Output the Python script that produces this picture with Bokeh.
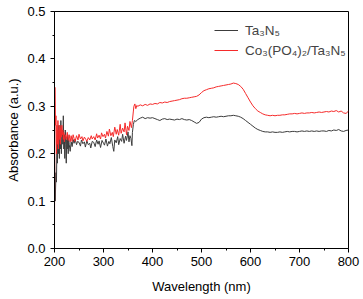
from bokeh.plotting import figure
from bokeh.models import Range1d, FixedTicker, NumeralTickFormatter, Legend, LegendItem
from bokeh.embed import file_html
from bokeh.resources import INLINE

# Ta3N5 (dark grey)
ta_x = [200, 201.5, 203, 204, 205, 206, 207, 208, 209, 210, 211, 212, 213, 214, 215, 216, 217, 218, 219, 220,
        221, 222, 223, 224, 225, 226, 227, 228, 229, 230, 232, 234, 236, 238,
        240, 242, 245, 247, 250, 253, 255, 258, 261, 263, 266, 269, 272, 274, 277, 280, 283, 286, 289, 291,
        294, 297, 300, 302, 305, 308, 311, 313, 316, 319, 321, 323, 326, 329, 331, 334, 337, 339, 342, 345,
        347, 350, 352, 354, 356, 358, 359, 361, 363, 366,
        370, 375, 380, 385, 390, 395, 400, 405, 410, 415, 420, 425, 430, 435, 440, 445, 450, 455, 460, 465,
        470, 475, 480, 485, 490, 495, 500, 505, 510, 515, 520, 525, 530, 535, 540, 545, 550, 555, 560, 565,
        570, 575, 580, 585, 590, 595, 600, 605, 610, 615, 620, 625, 630, 635, 640, 645, 650, 655, 660, 665,
        670, 675, 680, 685, 690, 695, 700, 705, 710, 715, 720, 725, 730, 735, 740, 745, 750, 755, 760, 765,
        770, 775, 780, 785, 790, 795, 800]
ta_y = [0.20, 0.10, 0.16, 0.14, 0.22, 0.18, 0.25, 0.20, 0.26, 0.19, 0.24, 0.21, 0.27, 0.20, 0.23, 0.25, 0.22, 0.28, 0.21, 0.24,
        0.19, 0.25, 0.22, 0.18, 0.23, 0.21, 0.24, 0.20, 0.23, 0.22, 0.205, 0.225, 0.215, 0.23,
        0.222, 0.231, 0.219, 0.226, 0.224, 0.216, 0.229, 0.221, 0.225, 0.214, 0.227, 0.219, 0.222, 0.212, 0.226, 0.224, 0.215, 0.229, 0.22, 0.227,
        0.213, 0.228, 0.222, 0.218, 0.231, 0.216, 0.226, 0.221, 0.234, 0.215, 0.205, 0.229, 0.223, 0.236, 0.219, 0.232, 0.226, 0.241, 0.222, 0.237,
        0.228, 0.246, 0.225, 0.238, 0.232, 0.217, 0.245, 0.262, 0.27, 0.268,
        0.272, 0.275, 0.277, 0.274, 0.276, 0.275, 0.276, 0.274, 0.272, 0.27, 0.273, 0.274, 0.272, 0.273, 0.272, 0.271, 0.273, 0.272, 0.274, 0.272,
        0.271, 0.272, 0.27, 0.267, 0.264, 0.266, 0.273, 0.276, 0.277, 0.276, 0.277, 0.278, 0.277, 0.278, 0.279, 0.278, 0.279, 0.28, 0.28, 0.281,
        0.28, 0.279, 0.277, 0.274, 0.27, 0.266, 0.262, 0.258, 0.254, 0.251, 0.249, 0.247, 0.246, 0.246, 0.245, 0.246, 0.245, 0.245, 0.246, 0.245,
        0.246, 0.247, 0.246, 0.247, 0.247, 0.246, 0.247, 0.248, 0.247, 0.248, 0.247, 0.248, 0.247, 0.248, 0.247, 0.248, 0.248, 0.247, 0.249, 0.248,
        0.25, 0.249, 0.251, 0.248, 0.247, 0.249, 0.25]

# Co3(PO4)2/Ta3N5 (red)
co_x = [200, 200.8, 202, 203, 204, 205, 206, 207, 208, 209, 210, 211, 212, 213, 214, 215, 216, 217, 218, 219,
        220, 222, 224, 226, 228, 230, 232, 234, 236, 238,
        240, 242, 245, 248, 250, 253, 256, 258, 261, 264, 266, 269, 272, 275, 277, 280, 283, 286, 288, 291,
        294, 296, 299, 302, 304, 307, 310, 312, 315, 318, 320, 323, 326, 328, 331, 334, 336, 339, 342, 344,
        347, 349, 352, 354, 357, 359, 361, 362, 364, 366, 368,
        370, 375, 380, 385, 390, 395, 400, 405, 410, 415, 420, 425, 430, 435, 440, 445, 450, 455, 460, 465,
        470, 475, 480, 485, 490, 495, 500, 505, 510, 515, 520, 525, 530, 535, 540, 545, 550, 555, 560, 565,
        570, 575, 580, 585, 590, 595, 600, 605, 610, 615, 620, 625, 630, 635, 640, 645, 650, 655, 660, 665,
        670, 675, 680, 685, 690, 695, 700, 705, 710, 715, 720, 725, 730, 735, 740, 745, 750, 755, 760, 765,
        770, 775, 780, 785, 790, 795, 800]
co_y = [0.03, 0.34, 0.26, 0.28, 0.20, 0.26, 0.22, 0.27, 0.21, 0.25, 0.23, 0.26, 0.22, 0.255, 0.235, 0.26, 0.24, 0.25, 0.23, 0.245,
        0.225, 0.24, 0.23, 0.245, 0.228, 0.24, 0.225, 0.238, 0.226, 0.24,
        0.232, 0.226, 0.238, 0.229, 0.241, 0.231, 0.236, 0.227, 0.235, 0.23, 0.226, 0.234, 0.229, 0.238, 0.231, 0.236, 0.229, 0.242, 0.233, 0.239,
        0.231, 0.244, 0.236, 0.241, 0.233, 0.247, 0.237, 0.252, 0.238, 0.245, 0.236, 0.256, 0.241, 0.251, 0.239, 0.262, 0.243, 0.254, 0.246, 0.265,
        0.24, 0.258, 0.249, 0.268, 0.255, 0.27, 0.29, 0.30, 0.305, 0.295, 0.302,
        0.30, 0.303, 0.301, 0.304, 0.302, 0.305, 0.304, 0.306, 0.305, 0.308, 0.307, 0.309, 0.308, 0.31, 0.311, 0.312, 0.313, 0.314, 0.316, 0.317,
        0.317, 0.318, 0.319, 0.32, 0.321, 0.324, 0.329, 0.333, 0.335, 0.337, 0.338, 0.339, 0.341, 0.342, 0.343, 0.344, 0.345, 0.346, 0.347, 0.349,
        0.348, 0.346, 0.342, 0.336, 0.327, 0.318, 0.309, 0.301, 0.295, 0.29, 0.287, 0.284, 0.282, 0.281, 0.28, 0.281, 0.28, 0.281, 0.281, 0.282,
        0.282, 0.283, 0.284, 0.284, 0.285, 0.284, 0.285, 0.286, 0.285, 0.286, 0.286, 0.287, 0.286, 0.287, 0.288, 0.287, 0.288, 0.289, 0.288, 0.29,
        0.289, 0.291, 0.288, 0.29, 0.286, 0.285, 0.29]

x_ticks = [200, 300, 400, 500, 600, 700, 800]
x_minor = [250, 350, 450, 550, 650, 750]
y_ticks = [0.0, 0.1, 0.2, 0.3, 0.4, 0.5]
y_minor = [0.05, 0.15, 0.25, 0.35, 0.45]
labels = ["Ta\u2083N\u2085", "Co\u2083(PO\u2084)\u2082/Ta\u2083N\u2085"]
colors = ["#3c3c3c", "#f52b2b"]

FONT = "Liberation Sans"

p = figure(width=363, height=299, output_backend="svg", toolbar_location=None,
           x_range=Range1d(200, 800), y_range=Range1d(0, 0.5),
           min_border_left=54, min_border_right=15, min_border_top=11, min_border_bottom=51)
p.background_fill_color = "white"
p.border_fill_color = "white"
p.outline_line_color = "black"
p.outline_line_width = 1
p.grid.visible = False

r1 = p.line(ta_x, ta_y, line_color=colors[0], line_width=1)
r2 = p.line(co_x, co_y, line_color=colors[1], line_width=1)

for ax in (p.xaxis[0], p.yaxis[0]):
    ax.axis_line_color = "black"
    ax.major_tick_line_color = "black"
    ax.minor_tick_line_color = "black"
    ax.major_tick_in = 0
    ax.major_tick_out = 4
    ax.minor_tick_in = 0
    ax.minor_tick_out = 2
    ax.major_label_text_font = FONT
    ax.major_label_text_font_size = "13px"
    ax.major_label_text_color = "black"
    ax.axis_label_text_font = FONT
    ax.axis_label_text_font_size = "13px"
    ax.axis_label_text_font_style = "normal"
    ax.axis_label_text_color = "black"

p.xaxis.ticker = FixedTicker(ticks=x_ticks, minor_ticks=x_minor)
p.yaxis.ticker = FixedTicker(ticks=y_ticks, minor_ticks=y_minor)
p.yaxis.formatter = NumeralTickFormatter(format="0.0")
p.xaxis.axis_label = "Wavelength (nm)"
p.yaxis.axis_label = "Absorbance (a.u.)"
p.xaxis.major_label_standoff = 4
p.xaxis.axis_label_standoff = 10
p.yaxis.major_label_standoff = 5
p.yaxis.axis_label_standoff = 3

legend = Legend(items=[LegendItem(label=labels[0], renderers=[r1]),
                       LegendItem(label=labels[1], renderers=[r2])],
                location=(160, 188), padding=0, margin=0, spacing=0,
                glyph_width=24, glyph_height=20, label_height=20, label_standoff=7,
                label_text_font=FONT, label_text_font_size="13.5px",
                border_line_color=None, background_fill_alpha=0)
p.add_layout(legend, "center")

open("out.html", "w").write(file_html(p, INLINE))
